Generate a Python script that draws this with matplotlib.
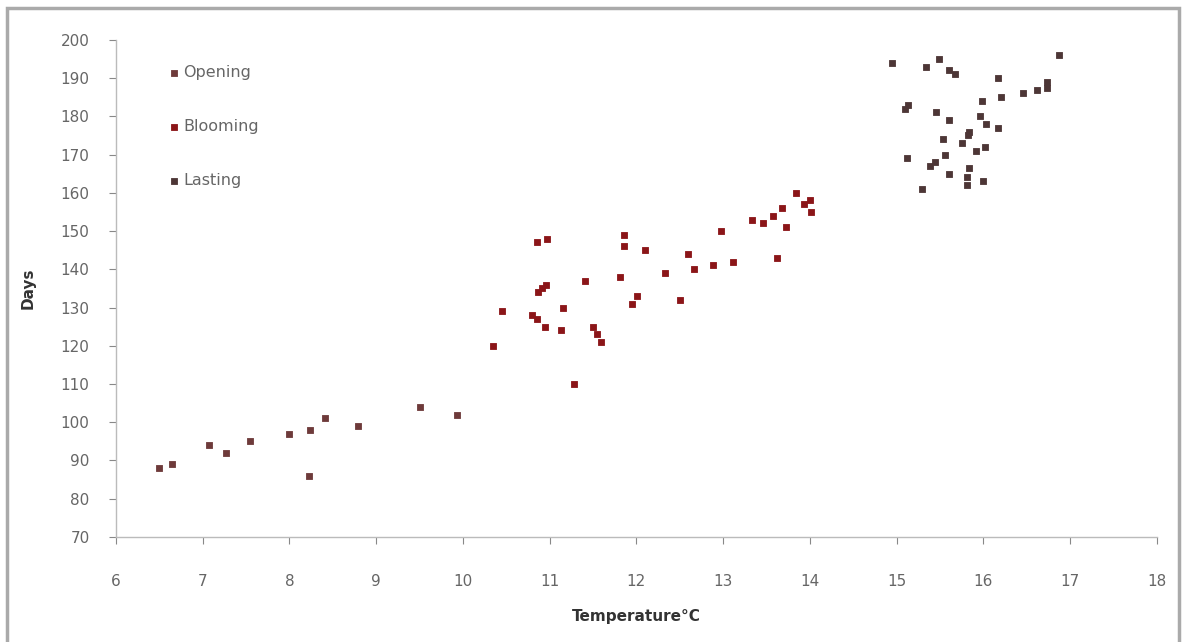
import matplotlib
matplotlib.use("Agg")
import matplotlib.pyplot as plt
from matplotlib.patches import Rectangle

# Opening series
opening_temp = [6.5, 6.65, 7.07, 7.27, 7.54, 8.0, 8.24, 8.22, 8.41, 8.79, 9.5, 9.93]
opening_days = [88, 89, 94, 92, 95, 97, 98, 86, 101, 99, 104, 102]

# Blooming series
blooming_temp = [10.35, 10.45, 10.85, 10.97, 10.86, 10.91, 10.96, 10.8, 10.85, 10.95,
                 11.15, 11.13, 11.28, 11.41, 11.5, 11.54, 11.59, 11.81, 11.86, 11.86,
                 11.95, 12.01, 12.1, 12.33, 12.5, 12.6, 12.66, 12.88, 12.98, 13.11,
                 13.33, 13.46, 13.57, 13.68, 13.73, 13.62, 13.84, 13.93, 14.0, 14.01]
blooming_days = [120, 129, 147, 148, 134, 135, 136, 128, 127, 125,
                 130, 124, 110, 137, 125, 123, 121, 138, 149, 146,
                 131, 133, 145, 139, 132, 144, 140, 141, 150, 142,
                 153, 152, 154, 156, 151, 143, 160, 157, 158, 155]

# Lasting series
lasting_temp = [14.95, 15.34, 15.49, 15.6, 15.67, 16.87, 16.17, 15.13, 15.1, 15.46,
                15.61, 15.99, 16.2, 16.46, 16.62, 16.73, 16.74, 15.96, 16.03, 16.17,
                15.84, 15.82, 15.76, 15.54, 16.02, 15.91, 15.56, 15.12, 15.44, 15.38,
                15.6, 15.84, 15.81, 15.81, 16.0, 15.29]
lasting_days = [194, 193, 195, 192, 191, 196, 190, 183, 182, 181,
                179, 184, 185, 186, 187, 187.5, 189, 180, 178, 177,
                176, 175, 173, 174, 172, 171, 170, 169, 168, 167,
                165, 166.5, 164, 162, 163, 161]

series_names = ["Opening", "Blooming", "Lasting"]
x_ticks = list(range(6, 19))
y_ticks = list(range(70, 201, 10))

fig = plt.figure(figsize=(11.84, 6.42), dpi=100)
ax = fig.add_axes([0.098, 0.1636, 0.879, 0.7744])

colors = ["#6e3a3a", "#8b1518", "#4d3636"]
for (xs, ys), name, c in zip([(opening_temp, opening_days),
                              (blooming_temp, blooming_days),
                              (lasting_temp, lasting_days)], series_names, colors):
    ax.scatter(xs, ys, s=24, marker="s", color=c, label=name, linewidths=0.6,
               edgecolors=c, zorder=3)

ax.set_xlim(6, 18)
ax.set_ylim(70, 200)
ax.set_xticks(x_ticks)
ax.set_yticks(y_ticks)
ax.tick_params(axis="both", labelsize=11, colors="#888888", labelcolor="#666666",
               length=5, direction="out")
ax.tick_params(axis="x", pad=22)
ax.tick_params(axis="y", pad=14)
for side in ["top", "right"]:
    ax.spines[side].set_visible(False)
for side in ["left", "bottom"]:
    ax.spines[side].set_color("#bbbbbb")
    ax.spines[side].set_linewidth(1.0)

ax.set_xlabel("Temperature°C", fontsize=11, fontweight="bold", color="#333333", labelpad=14)
ax.set_ylabel("Days", fontsize=11, fontweight="bold", color="#333333", labelpad=18)

leg = ax.legend(loc="upper left", bbox_to_anchor=(0.034, 0.978), frameon=False,
                fontsize=11.5, labelspacing=2.45, handletextpad=0.1, markerscale=0.85,
                handlelength=1.0)
for t in leg.get_texts():
    t.set_color("#666666")

fig.patches.append(Rectangle((0.006, -0.01), 0.99, 0.998, transform=fig.transFigure,
                             fill=False, edgecolor="#aaaaaa", linewidth=2.5))

fig.savefig("out.png", dpi=100)
